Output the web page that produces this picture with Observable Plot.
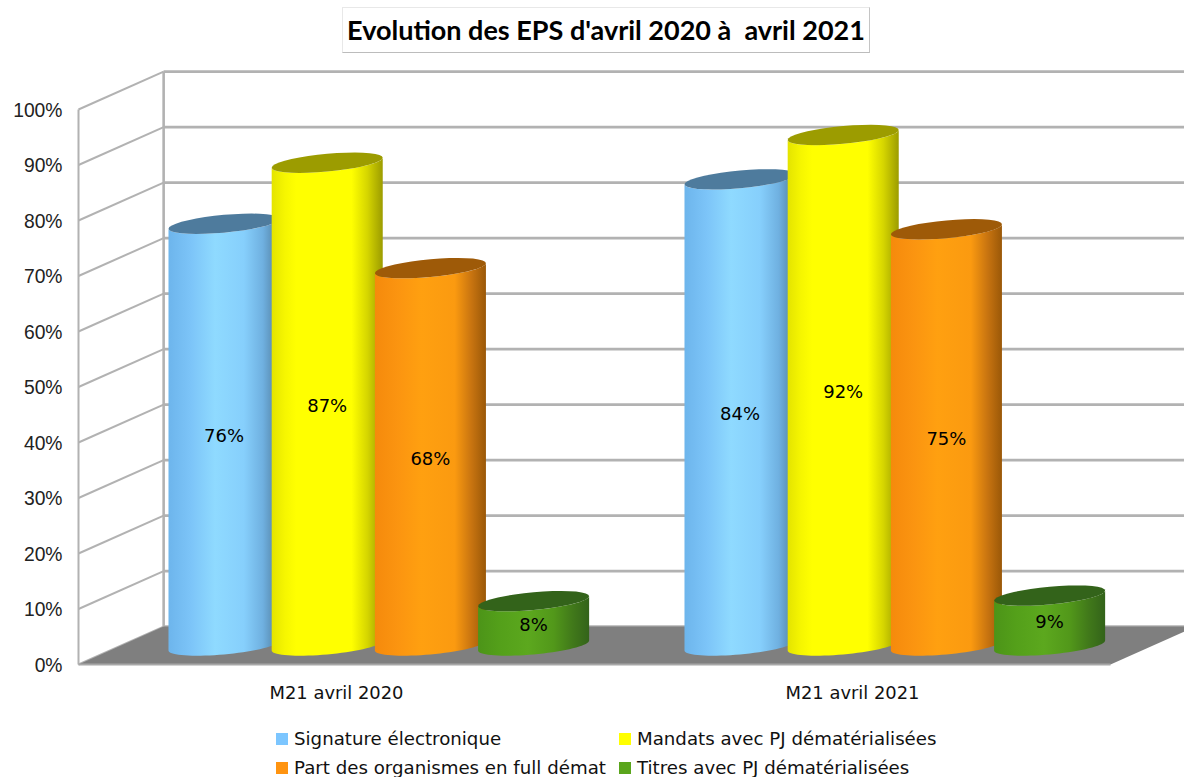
<!DOCTYPE html>
<html lang="fr">
<head>
<meta charset="utf-8">
<script src="https://cdn.jsdelivr.net/npm/d3@7"></script>
<script src="https://cdn.jsdelivr.net/npm/@observablehq/plot@0.6"></script>
<style>
  html, body { margin: 0; padding: 0; background: #fff; width: 1184px; height: 777px; overflow: hidden; }
  #head { height: 60px; padding-top: 7px; box-sizing: border-box; }
  #title { margin-left: 342px; width: 528px; height: 46px; box-sizing: border-box; border: 1px solid #e8e8e8;
    border-right-color: #c4c4c4; border-bottom-color: #bcbcbc;
    font: 700 27px/43px Lato, sans-serif; color: #000; text-align: center; white-space: pre; }
  #chart svg { display: block; }
  #legend { height: 57px; box-sizing: border-box; padding: 4px 0 0 276px; display: grid;
    grid-template-columns: 343px auto; grid-auto-rows: 29px; font: 18.2px/29px "DejaVu Sans", sans-serif; color: #111; }
  #legend div { display: flex; align-items: center; white-space: pre; }
  #legend i { width: 12px; height: 12px; margin-right: 6px; flex: none; }
</style>
</head>
<body>
<div id="head"><div id="title"></div></div>
<div id="chart"></div>
<div id="legend"></div>
<script>
const titleText = "Evolution des EPS d'avril 2020 à  avril 2021";
const categories = ["M21 avril 2020", "M21 avril 2021"];
const seriesNames = ["Signature électronique", "Mandats avec PJ dématérialisées", "Part des organismes en full démat", "Titres avec PJ dématérialisées"];
const signature = [76, 84];
const mandats = [87, 92];
const organismes = [68, 75];
const titres = [8, 9];
const seriesValues = [signature, mandats, organismes, titres];
const yTicks = [0, 10, 20, 30, 40, 50, 60, 70, 80, 90, 100];

const swatchColors = ["#7cc6ff", "#ffff00", "#ff9410", "#5aa51c"];
const topColors = ["#4e7b9d", "#9c9c00", "#9e5a08", "#33631a"];
const gradients = [
  [[0, "#6db5ec"], [0.2, "#7cc4f8"], [0.42, "#8fdaff"], [0.68, "#86cffc"], [0.85, "#6fb0e0"], [1, "#4f7b9b"]],
  [[0, "#e4e400"], [0.12, "#f6f600"], [0.22, "#ffff00"], [0.72, "#ffff00"], [0.86, "#d6d600"], [1, "#9c9c00"]],
  [[0, "#f58a0c"], [0.2, "#fb9410"], [0.42, "#ffa010"], [0.72, "#fb9a10"], [0.87, "#c87410"], [1, "#9a5808"]],
  [[0, "#4c9418"], [0.2, "#54a01a"], [0.45, "#5ca81e"], [0.68, "#52981a"], [0.85, "#41791a"], [1, "#33631a"]]
];

// Depth of the 3D box and cylinder shape, in scale units (categories on x, percent on y)
const depthX = 0.165, depthY = 6.83;
const slot = 0.2, halfWidth = 0.1076;
const tiltY = 0.9, minorY = 1.6;
const steps = 36;

const barCenter = (g, s) => g + 0.4995 + slot * (s - 1.5) + depthX / 2;
const rim = (cx, v, t) => ({
  x: cx + halfWidth * Math.cos(t),
  y: v + depthY / 2 + tiltY * Math.cos(t) + minorY * Math.sin(t)
});
const arc = (cx, v, a, b) => d3.range(steps + 1).map(i => rim(cx, v, a + (b - a) * i / steps));

const marks = [];
const gridColor = "#b2b2b2";

// gradient definitions
marks.push(() => {
  const ns = "http://www.w3.org/2000/svg";
  const defs = document.createElementNS(ns, "defs");
  gradients.forEach((stops, i) => {
    const g = document.createElementNS(ns, "linearGradient");
    g.setAttribute("id", "cyl" + i);
    stops.forEach(([o, c]) => {
      const st = document.createElementNS(ns, "stop");
      st.setAttribute("offset", o);
      st.setAttribute("stop-color", c);
      g.appendChild(st);
    });
    defs.appendChild(g);
  });
  return defs;
});

// back wall grid and side wall grid
marks.push(Plot.link(yTicks, {
  x1: 0 + depthX, x2: 2 + depthX,
  y1: d => d + depthY, y2: d => d + depthY,
  stroke: gridColor, strokeWidth: 2.6
}));
marks.push(Plot.link(yTicks, {
  x1: 0, x2: depthX,
  y1: d => d, y2: d => d + depthY,
  stroke: gridColor, strokeWidth: 2
}));
marks.push(Plot.link([0], {
  x1: 0, x2: 0, y1: 0, y2: 100, stroke: gridColor, strokeWidth: 2
}));
marks.push(Plot.link([0], {
  x1: depthX, x2: depthX, y1: depthY, y2: 100 + depthY, stroke: gridColor, strokeWidth: 2.6
}));

// floor
marks.push(Plot.line([
  {x: 0, y: 0}, {x: 2, y: 0}, {x: 2 + depthX, y: depthY}, {x: depthX, y: depthY}
], {x: "x", y: "y", fill: "#7f7f7f", stroke: "none"}));
marks.push(Plot.link([0], {
  x1: 0, x2: 2, y1: 0, y2: 0, stroke: "#a8a8a8", strokeWidth: 2
}));

// cylinders, left to right
categories.forEach((c, g) => {
  seriesValues.forEach((vals, s) => {
    const cx = barCenter(g, s), v = vals[g];
    const body = [...arc(cx, 0, Math.PI, 2 * Math.PI), ...arc(cx, v, 2 * Math.PI, Math.PI)];
    const top = arc(cx, v, 0, 2 * Math.PI);
    marks.push(Plot.line(body, {x: "x", y: "y", fill: `url(#cyl${s})`, stroke: "none"}));
    marks.push(Plot.line(top, {x: "x", y: "y", fill: topColors[s], stroke: "none"}));
  });
});

// value labels
const labels = categories.flatMap((c, g) => seriesValues.map((vals, s) => ({
  x: barCenter(g, s), y: vals[g] / 2 + depthY / 2, t: vals[g] + "%"
})));
marks.push(Plot.text(labels, {
  x: "x", y: "y", text: "t", dy: 2, fill: "#000", fontSize: 18, fontFamily: "DejaVu Sans"
}));

// axes
marks.push(Plot.axisY({
  ticks: yTicks, tickSize: 0, tickPadding: 16, label: null, tickFormat: d => d + "%",
  fontSize: 19.3, fontFamily: "Liberation Sans", fill: "#222", dy: 1
}));
marks.push(Plot.axisX({
  ticks: [0.5, 1.5], tickSize: 0, tickPadding: 22, label: null,
  tickFormat: d => categories[Math.floor(d)],
  fontSize: 17.9, fontFamily: "DejaVu Sans", fill: "#111"
}));

const plot = Plot.plot({
  width: 1184, height: 660,
  marginLeft: 78, marginRight: 74, marginTop: 49, marginBottom: 56,
  x: {type: "linear", domain: [0, 2]},
  y: {type: "linear", domain: [0, 100]},
  marks
});
document.getElementById("chart").appendChild(plot);

document.getElementById("title").textContent = titleText;
const legend = document.getElementById("legend");
seriesNames.forEach((n, i) => {
  const d = document.createElement("div");
  const sw = document.createElement("i");
  sw.style.background = swatchColors[i];
  d.appendChild(sw);
  d.appendChild(document.createTextNode(n));
  legend.appendChild(d);
});
</script>
</body>
</html>
